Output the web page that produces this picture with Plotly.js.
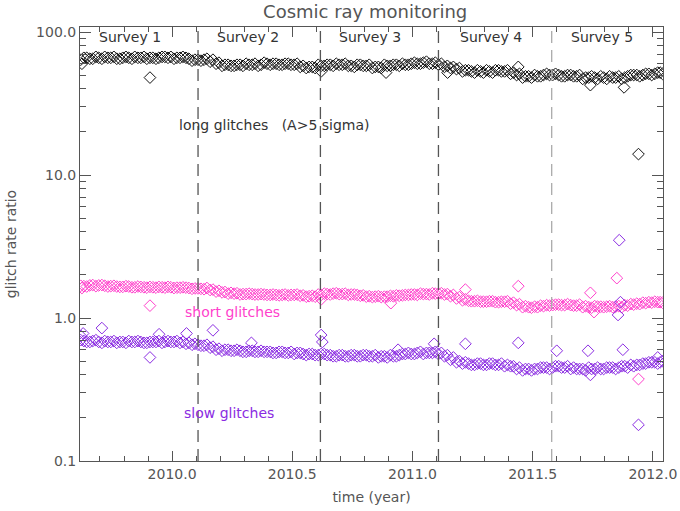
<!DOCTYPE html>
<html>
<head>
<meta charset="utf-8">
<script src="https://cdn.plot.ly/plotly-3.0.1.min.js"></script>
<style>html,body{margin:0;padding:0;background:#fff;}#chart{width:680px;height:511px;}</style>
</head>
<body>
<div id="chart"></div>
<script>
// ---- data ----
const time = [
 2009.620,2009.645,2009.670,2009.695,2009.720,2009.745,2009.770,2009.795,2009.820,2009.845,2009.870,2009.895,2009.920,2009.945,2009.970,2009.995,
 2010.020,2010.045,2010.070,2010.095,2010.120,2010.145,2010.170,2010.195,2010.220,2010.245,2010.270,2010.295,2010.320,2010.345,2010.370,2010.395,2010.420,2010.445,2010.470,2010.495,
 2010.520,2010.545,2010.570,2010.595,2010.620,2010.645,2010.670,2010.695,2010.720,2010.745,2010.770,2010.795,2010.820,2010.845,2010.870,2010.895,2010.920,2010.945,2010.970,2010.995,
 2011.020,2011.045,2011.070,2011.095,2011.120,2011.145,2011.170,2011.195,2011.220,2011.245,2011.270,2011.295,2011.320,2011.345,2011.370,2011.395,2011.420,2011.445,2011.470,2011.495,
 2011.520,2011.545,2011.570,2011.595,2011.620,2011.645,2011.670,2011.695,2011.720,2011.745,2011.770,2011.795,2011.820,2011.845,2011.870,2011.895,2011.920,2011.945,2011.970,2011.995,
 2012.020,2012.040];

const longGlitches = [
 64,66,65,66,67,66,65,66,66,67,66,65,66,66,67,67,
 66,67,65,64,63,65,64,61,59,58,59,58,59,60,59,60,60,59,60,59,
 60,58,57,56,58,59,58,59,60,58,59,58,59,57,56,58,59,58,59,60,
 60,61,60,61,60,58,57,56,54,53,54,52,53,54,53,54,52,51,49,48,
 49,50,50,51,49,50,49,50,48,49,47,48,49,48,47,49,50,49,51,50,
 52,51];

const shortGlitches = [
 1.68,1.66,1.70,1.69,1.68,1.67,1.66,1.65,1.66,1.64,1.65,1.63,1.64,1.65,1.63,1.64,
 1.63,1.64,1.62,1.61,1.60,1.62,1.58,1.55,1.52,1.50,1.49,1.47,1.48,1.46,1.47,1.45,1.46,1.44,1.46,1.45,
 1.46,1.44,1.42,1.41,1.45,1.47,1.48,1.47,1.48,1.46,1.45,1.44,1.42,1.41,1.40,1.41,1.42,1.43,1.45,1.46,
 1.45,1.47,1.46,1.48,1.49,1.47,1.45,1.40,1.35,1.31,1.32,1.30,1.31,1.29,1.30,1.31,1.28,1.25,1.21,1.18,
 1.19,1.21,1.22,1.24,1.23,1.25,1.22,1.24,1.21,1.18,1.20,1.19,1.21,1.20,1.19,1.22,1.24,1.25,1.27,1.28,
 1.29,1.28];

const slowGlitches = [
 0.70,0.68,0.69,0.68,0.69,0.68,0.67,0.68,0.69,0.68,0.68,0.67,0.68,0.69,0.68,0.68,
 0.69,0.68,0.67,0.66,0.64,0.65,0.63,0.61,0.60,0.59,0.60,0.58,0.59,0.58,0.59,0.58,0.57,0.58,0.57,0.58,
 0.57,0.56,0.56,0.55,0.56,0.55,0.54,0.55,0.54,0.55,0.54,0.55,0.54,0.55,0.54,0.53,0.54,0.55,0.56,0.56,
 0.57,0.56,0.57,0.58,0.57,0.55,0.53,0.50,0.49,0.47,0.48,0.47,0.48,0.47,0.48,0.47,0.46,0.45,0.44,0.43,
 0.44,0.45,0.44,0.46,0.45,0.46,0.45,0.44,0.43,0.44,0.45,0.44,0.45,0.44,0.46,0.45,0.46,0.47,0.48,0.49,
 0.48,0.50];

// interleaved samples (between the ones above)
const time2 = [
 2009.633,2009.658,2009.683,2009.708,2009.733,2009.758,2009.783,2009.808,2009.833,2009.858,2009.883,2009.908,2009.933,2009.958,2009.983,
 2010.008,2010.033,2010.058,2010.083,2010.108,2010.133,2010.158,2010.183,2010.208,2010.233,2010.258,2010.283,2010.308,2010.333,2010.358,2010.383,2010.408,2010.433,2010.458,2010.483,
 2010.508,2010.533,2010.558,2010.583,2010.608,2010.633,2010.658,2010.683,2010.708,2010.733,2010.758,2010.783,2010.808,2010.833,2010.858,2010.883,2010.908,2010.933,2010.958,2010.983,
 2011.008,2011.033,2011.058,2011.083,2011.108,2011.133,2011.158,2011.183,2011.208,2011.233,2011.258,2011.283,2011.308,2011.333,2011.358,2011.383,2011.408,2011.433,2011.458,2011.483,
 2011.508,2011.533,2011.558,2011.583,2011.608,2011.633,2011.658,2011.683,2011.708,2011.733,2011.758,2011.783,2011.808,2011.833,2011.858,2011.883,2011.908,2011.933,2011.958,2011.983,
 2012.008,2012.030];

const longGlitches2 = [
 66,65,67,65,66,67,65,67,65,66,67,66,65,67,66,
 65,66,66,63,64,64,62,60,58,59,58,59,60,59,58,61,59,60,59,60,
 59,57,56,57,59,58,59,60,59,58,57,59,58,56,57,59,58,59,60,59,
 61,60,62,60,59,57,56,55,53,54,52,53,54,52,54,53,51,50,48,49,
 50,49,51,50,50,49,50,49,47,48,48,49,47,48,49,48,50,50,50,51,
 51,52];

const shortGlitches2 = [
 1.67,1.69,1.67,1.70,1.66,1.68,1.65,1.67,1.64,1.66,1.64,1.65,1.63,1.64,1.65,
 1.62,1.63,1.63,1.60,1.61,1.59,1.57,1.53,1.51,1.48,1.48,1.46,1.47,1.47,1.46,1.46,1.45,1.45,1.45,1.44,
 1.45,1.43,1.41,1.43,1.46,1.48,1.46,1.49,1.47,1.45,1.46,1.43,1.41,1.40,1.42,1.41,1.43,1.44,1.44,1.45,
 1.46,1.48,1.47,1.49,1.48,1.46,1.42,1.37,1.33,1.32,1.31,1.30,1.30,1.31,1.29,1.30,1.26,1.23,1.19,1.19,
 1.20,1.22,1.23,1.23,1.24,1.23,1.23,1.22,1.19,1.19,1.21,1.20,1.20,1.19,1.21,1.23,1.25,1.26,1.28,1.29,
 1.30,1.29];

const slowGlitches2 = [
 0.69,0.68,0.70,0.67,0.68,0.69,0.68,0.67,0.68,0.69,0.67,0.68,0.68,0.67,0.69,
 0.68,0.67,0.66,0.65,0.65,0.64,0.62,0.60,0.59,0.60,0.59,0.59,0.58,0.59,0.58,0.58,0.58,0.57,0.58,0.57,
 0.56,0.57,0.55,0.56,0.55,0.56,0.55,0.54,0.55,0.54,0.55,0.54,0.55,0.54,0.53,0.54,0.55,0.54,0.56,0.57,
 0.56,0.58,0.57,0.57,0.56,0.54,0.51,0.49,0.48,0.48,0.47,0.48,0.47,0.48,0.47,0.46,0.46,0.44,0.43,0.44,
 0.44,0.45,0.45,0.45,0.46,0.45,0.44,0.44,0.44,0.45,0.44,0.44,0.45,0.45,0.45,0.46,0.47,0.47,0.48,0.49,
 0.49,0.49];

// isolated outlying points
const longOutT = [2009.625,2009.908,2010.620,2010.890,2011.146,2011.440,2011.740,2011.880,2011.940];
const longOutV = [60,48,53,52,52,57,42.5,41,14];
const shortOutT = [2009.625,2009.908,2010.620,2010.910,2011.220,2011.440,2011.740,2011.755,2011.850,2011.940];
const shortOutV = [1.62,1.22,1.35,1.27,1.58,1.67,1.50,1.10,1.90,0.374];
const slowOutT = [2009.620,2009.630,2009.708,2009.908,2009.946,2010.060,2010.170,2010.330,2010.620,2010.625,2010.940,2011.090,2011.220,2011.440,2011.600,2011.730,2011.740,2011.860,2011.865,2011.855,2011.875,2011.940,2012.020];
const slowOutV = [0.75,0.78,0.85,0.53,0.77,0.78,0.82,0.67,0.76,0.68,0.60,0.66,0.66,0.67,0.59,0.59,0.40,3.5,1.29,1.05,0.60,0.179,0.53];

const surveyBounds = [2010.108,2010.617,2011.108,2011.579];
const surveyNames = ["Survey 1","Survey 2","Survey 3","Survey 4","Survey 5"];
const surveyLabelX = [2009.825,2010.317,2010.825,2011.325,2011.790];

const yTickVals = [0.1,1,10,100];
const yTickText = ["0.1","1.0","10.0","100.0"];
const yMinorVals = [0.2,0.3,0.4,0.5,0.6,0.7,0.8,0.9,2,3,4,5,6,7,8,9,20,30,40,50,60,70,80,90];

const cBlack = "#111111", cPink = "#ff3fcc", cPurple = "#8a2be2";
const gray = "#555555";
const font = "DejaVu Sans, sans-serif";

function mk(x, y, color) {
  return {x: x, y: y, type: "scatter", mode: "markers", hoverinfo: "skip", showlegend: false,
    marker: {symbol: "diamond-open", size: 9, color: color, line: {width: 1, color: color}}};
}

const data = [
  mk(time, longGlitches, cBlack), mk(time2, longGlitches2, cBlack), mk(longOutT, longOutV, cBlack),
  mk(time, shortGlitches, cPink), mk(time2, shortGlitches2, cPink), mk(shortOutT, shortOutV, cPink),
  mk(time, slowGlitches, cPurple), mk(time2, slowGlitches2, cPurple), mk(slowOutT, slowOutV, cPurple)
];

const shapes = surveyBounds.map((b, i) => ({
  type: "line", xref: "x", yref: "paper", x0: b, x1: b, y0: 0, y1: 1,
  line: {color: i === 3 ? "#aaaaaa" : "#555555", width: 1.3, dash: "12px,7px"}
}));

const annotations = surveyNames.map((s, i) => ({
  text: s, x: surveyLabelX[i], xref: "x", y: 0.977, yref: "paper", yanchor: "middle", showarrow: false,
  font: {family: font, size: 14, color: "#333"}
}));
annotations.push(
  {text: "long glitches   (A>5 sigma)", x: 2010.425, xref: "x", y: 0.774, yref: "paper", yanchor: "middle", showarrow: false,
   font: {family: font, size: 14, color: "#333"}},
  {text: "short glitches", x: 2010.25, xref: "x", y: 0.343, yref: "paper", yanchor: "middle", showarrow: false,
   font: {family: font, size: 14, color: cPink}},
  {text: "slow glitches", x: 2010.235, xref: "x", y: 0.1106, yref: "paper", yanchor: "middle", showarrow: false,
   font: {family: font, size: 14, color: cPurple}}
);

const layout = {
  width: 680, height: 511,
  margin: {l: 80, r: 17, t: 27, b: 50},
  paper_bgcolor: "#fff", plot_bgcolor: "#fff",
  font: {family: font, color: gray, size: 14},
  title: {text: "Cosmic ray monitoring", x: 0.537, xanchor: "center", y: 0.99, yanchor: "top",
          font: {family: font, size: 18, color: gray}},
  xaxis: {
    range: [2009.617, 2012.042], showgrid: false, zeroline: false,
    showline: true, linecolor: gray, linewidth: 1, mirror: "ticks",
    ticks: "inside", ticklen: 10, tickcolor: gray, tickwidth: 1,
    tick0: 2010, dtick: 0.5, tickformat: ".1f",
    minor: {ticks: "inside", ticklen: 5, tick0: 2010, dtick: 0.1, tickcolor: gray, showgrid: false},
    tickfont: {family: font, size: 14, color: gray},
    title: {text: "time (year)", font: {family: font, size: 14, color: gray}, standoff: 11}
  },
  yaxis: {
    type: "log", range: [-1, 2.035], showgrid: false, zeroline: false,
    showline: true, linecolor: gray, linewidth: 1, mirror: "ticks",
    ticks: "inside", ticklen: 11, tickcolor: gray, tickwidth: 1,
    tickmode: "array", tickvals: yTickVals, ticktext: yTickText,
    minor: {ticks: "inside", ticklen: 6, tickmode: "array", tickvals: yMinorVals, tickcolor: gray, showgrid: false},
    tickfont: {family: font, size: 14, color: gray},
    title: {text: "glitch rate ratio", font: {family: font, size: 14, color: gray}, standoff: 16}
  },
  shapes: shapes,
  annotations: annotations
};

Plotly.newPlot("chart", data, layout, {displayModeBar: false, staticPlot: true});
</script>
</body>
</html>
